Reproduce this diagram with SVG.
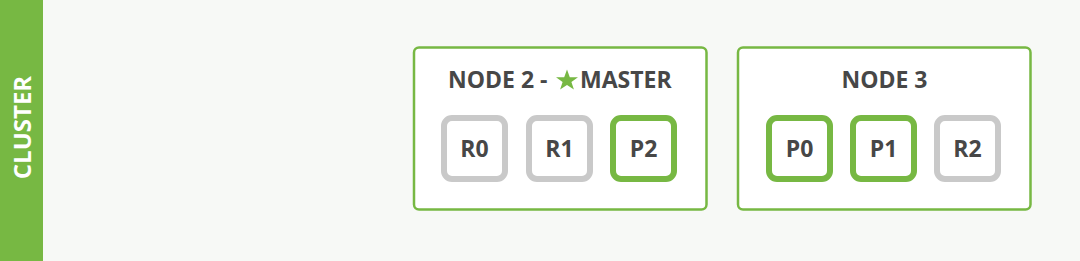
<svg xmlns="http://www.w3.org/2000/svg" width="1080" height="261" viewBox="0 0 1080 261">
<style>
.node{fill:#ffffff;stroke:#77b843;stroke-width:2.5}
.title{font-family:"Open Sans",sans-serif;font-weight:700;font-size:23px;fill:#474747}
.shard{fill:#ffffff;stroke-width:6}
.pri{stroke:#77b843}
.rep{stroke:#c9c9c9}
.lbl{font-family:"Open Sans",sans-serif;font-weight:700;font-size:23px;fill:#474747;text-anchor:middle}
</style>
<rect x="0" y="0" width="1080" height="261" fill="#f7f9f6"/>
<g id="cluster">
<rect x="0" y="0" width="43" height="261" fill="#77b843"/>
<text transform="translate(30.5,127.5) rotate(-90)" text-anchor="middle" font-family="'Open Sans',sans-serif" font-weight="700" font-size="24" fill="#ffffff">CLUSTER</text>
</g>
<g id="node2">
<rect class="node" x="414" y="47.5" width="292.5" height="162" rx="5"/>
<text class="title" x="448" y="88">NODE 2 -</text>
<polygon points="567,69.5 569.8,77.2 578,77.2 571.4,82 573.9,89.5 567,85 560.1,89.5 562.6,82 556,77.2 564.2,77.2" fill="#77b843"/>
<text class="title" x="580" y="88" font-size="24">MASTER</text>
<g id="n2-r0"><rect class="shard rep" x="444" y="118" width="61" height="61" rx="8"/><text class="lbl" x="474.5" y="157">R0</text></g>
<g id="n2-r1"><rect class="shard rep" x="529" y="118" width="61" height="61" rx="8"/><text class="lbl" x="559.5" y="157">R1</text></g>
<g id="n2-p2"><rect class="shard pri" x="613" y="118" width="61" height="61" rx="8"/><text class="lbl" x="643.5" y="157">P2</text></g>
</g>
<g id="node3">
<rect class="node" x="738" y="47.5" width="292.5" height="162" rx="5"/>
<text class="title" x="884.5" y="88" text-anchor="middle">NODE 3</text>
<g id="n3-p0"><rect class="shard pri" x="769" y="118" width="61" height="61" rx="8"/><text class="lbl" x="799.5" y="157">P0</text></g>
<g id="n3-p1"><rect class="shard pri" x="853" y="118" width="61" height="61" rx="8"/><text class="lbl" x="883.5" y="157">P1</text></g>
<g id="n3-r2"><rect class="shard rep" x="937" y="118" width="61" height="61" rx="8"/><text class="lbl" x="967.5" y="157">R2</text></g>
</g>
<g id="connectors"/>
</svg>
